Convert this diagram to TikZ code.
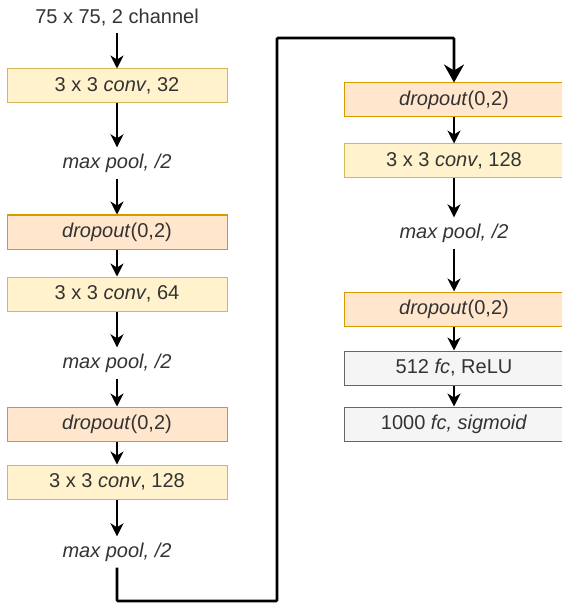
\documentclass[tikz,border=0pt]{standalone}
\usepackage{fontspec}
\setmainfont{Liberation Sans}
\usetikzlibrary{arrows.meta}

\definecolor{convfill}{HTML}{FFF2CC}
\definecolor{convline}{HTML}{D6B656}
\definecolor{dropfill}{HTML}{FFE6CC}
\definecolor{dropline}{HTML}{D79B00}
\definecolor{fcfill}{HTML}{F5F5F5}
\definecolor{fcline}{HTML}{666666}
\definecolor{labeltext}{HTML}{333333}

\tikzset{
	layer/.style={draw, line width=.5pt, minimum width=110pt, minimum height=17pt, inner sep=0pt, text=labeltext, font=\fontsize{10pt}{12pt}\selectfont},
	convbox/.style={layer, fill=convfill, draw=convline},
	dropbox/.style={layer, fill=dropfill, draw=dropline},
	fcbox/.style={layer, fill=fcfill, draw=fcline},
	pooltext/.style={inner sep=3pt, text=labeltext, font=\fontsize{10pt}{12pt}\selectfont\itshape},
	flow/.style={-{Stealth[length=6.5pt,width=6.5pt,inset=2pt]}, line width=.75pt},
	jump/.style={-{Stealth[length=9pt,width=10pt,inset=3pt]}, line width=1.3pt, rounded corners=.5pt}
}

\begin{document}
\begin{tikzpicture}[x=.5pt,y=-.5pt]
		\useasboundingbox (0,0) rectangle (562,604);
		\clip (0,0) rectangle (562,604);

		% left column
		\node[inner sep=3pt, text=labeltext, font=\fontsize{10pt}{12pt}\selectfont] (input) at (117,18) {75 x 75, 2 channel};
		\node[convbox] (conv1) at (117,86) {3 x 3 \textit{conv}, 32};
		\node[pooltext] (pool1) at (117,163) {max pool, /2};
		\node[dropbox] (drop1) at (117,232) {\textit{dropout}(0,2)};
		\node[convbox] (conv2) at (117,294) {3 x 3 \textit{conv}, 64};
		\node[pooltext] (pool2) at (117,363) {max pool, /2};
		\node[dropbox] (drop2) at (117,424) {\textit{dropout}(0,2)};
		\node[convbox] (conv3) at (117,482) {3 x 3 \textit{conv}, 128};
		\node[pooltext] (pool3) at (117,552) {max pool, /2};

		% right column
		\node[dropbox] (drop3) at (454,100) {\textit{dropout}(0,2)};
		\node[convbox] (conv4) at (454,161) {3 x 3 \textit{conv}, 128};
		\node[pooltext] (pool4) at (454,233) {max pool, /2};
		\node[dropbox] (drop4) at (454,309) {\textit{dropout}(0,2)};
		\node[fcbox] (fc1) at (454,368) {512 \textit{fc}, ReLU};
		\node[fcbox] (fc2) at (454,424) {1000 \textit{fc, sigmoid}};

		\draw[flow] (input) -- (conv1);
		\draw[flow] (conv1) -- (pool1);
		\draw[flow] (pool1) -- (drop1);
		\draw[flow] (drop1) -- (conv2);
		\draw[flow] (conv2) -- (pool2);
		\draw[flow] (pool2) -- (drop2);
		\draw[flow] (drop2) -- (conv3);
		\draw[flow] (conv3) -- (pool3);

		% jump to the second column
		\coordinate (low) at (277,601);
		\coordinate (high) at (454,38);
		\draw[jump] (pool3.south) |- (low) |- (high) -- (drop3.north);

		\draw[flow] (drop3) -- (conv4);
		\draw[flow] (conv4) -- (pool4);
		\draw[flow] (pool4) -- (drop4);
		\draw[flow] (drop4) -- (fc1);
		\draw[flow] (fc1) -- (fc2);
	\end{tikzpicture}
\end{document}
